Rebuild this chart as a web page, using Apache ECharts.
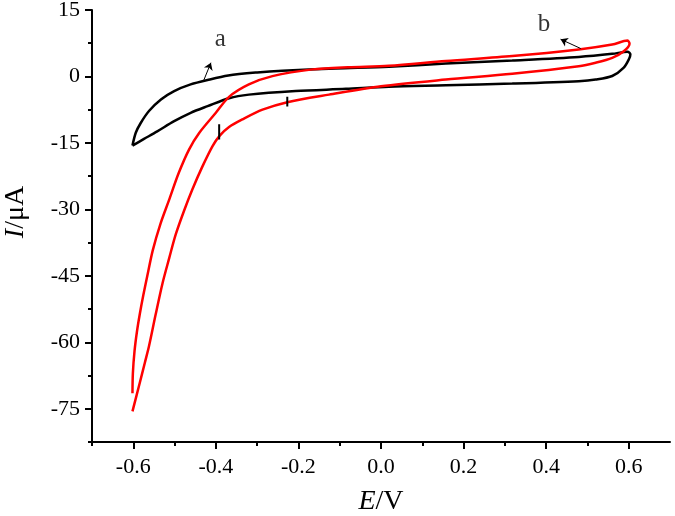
<!DOCTYPE html>
<html>
<head>
<meta charset="utf-8">
<script src="https://cdn.jsdelivr.net/npm/echarts@6/dist/echarts.min.js"></script>
<style>
  html, body { margin: 0; padding: 0; background: #fff; }
  #chart { width: 675px; height: 516px; }
</style>
</head>
<body>
<div id="chart"></div>
<script>
// ticks
const xMajor = [-0.6, -0.4, -0.2, 0.0, 0.2, 0.4, 0.6]
const xMinor = [-0.7, -0.5, -0.3, -0.1, 0.1, 0.3, 0.5]
const yMajor = [15, 0, -15, -30, -45, -60, -75]
const yMinor = [7.5, -7.5, -22.5, -37.5, -52.5, -67.5, -82.5]

// curve a (black), closed loop [E/V, I/uA]
const curveA = [
  [-0.602, -15.6], [-0.594, -12.7], [-0.582, -10.5], [-0.562, -7.8], [-0.533, -5.2],
  [-0.501, -3.3], [-0.461, -1.8], [-0.42, -0.8], [-0.37, 0.2], [-0.3, 0.9],
  [-0.239, 1.3], [-0.11, 1.8], [0.019, 2.2], [0.157, 2.9], [0.318, 3.6],
  [0.479, 4.4], [0.56, 5.1], [0.597, 5.6], [0.604, 5.0], [0.601, 4.0],
  [0.588, 2.0], [0.56, 0.1], [0.52, -0.7], [0.479, -1.06], [0.318, -1.6],
  [0.157, -2.0], [0.019, -2.3], [-0.085, -2.8], [-0.207, -3.3], [-0.32, -4.1],
  [-0.368, -4.9], [-0.42, -6.7], [-0.461, -8.2], [-0.501, -10.1], [-0.542, -12.4],
  [-0.574, -14.1], [-0.602, -15.6]
]

// curve b (red), open at the cathodic end
const curveB = [
  [-0.602, -71.5], [-0.601, -67], [-0.597, -62], [-0.591, -57.5], [-0.584, -53.5],
  [-0.576, -49.5], [-0.566, -45], [-0.553, -39.3], [-0.534, -33.2], [-0.513, -27.8],
  [-0.49, -21.8], [-0.465, -16.5], [-0.44, -12.7], [-0.4, -8.2], [-0.368, -4.6],
  [-0.32, -1.8], [-0.263, 0.07], [-0.166, 1.6], [-0.08, 2.1], [0.019, 2.4],
  [0.157, 3.5], [0.318, 4.6], [0.479, 6.1], [0.56, 7.2], [0.597, 8.1],
  [0.602, 7.4], [0.588, 5.7], [0.56, 4.2], [0.52, 3.1], [0.479, 2.3],
  [0.318, 0.6], [0.157, -0.7], [0.0, -2.2], [-0.126, -4.1], [-0.227, -5.8],
  [-0.287, -7.5], [-0.336, -9.7], [-0.368, -11.4], [-0.39, -13.3], [-0.408, -15.7],
  [-0.433, -20.4], [-0.457, -25.5], [-0.477, -30.3], [-0.497, -35.6], [-0.513, -41],
  [-0.529, -46.6], [-0.546, -53.8], [-0.562, -60.9], [-0.572, -64.6], [-0.585, -69.4],
  [-0.602, -75.6]
]

// short vertical marks on the curves
const marks = [
  [-0.392, -10.8], [-0.392, -14.2], '-',
  [-0.227, -4.6], [-0.227, -6.8]
]

// curve labels and their arrows: [from, to]
const labels = [[-0.389, 8.4, 'a'], [0.395, 11.7, 'b']]
const arrows = [
  [[-0.429, -0.8], [-0.412, 3.1]],
  [[0.484, 6.3], [0.435, 8.4]]
]

const FONT = '"Liberation Serif", "DejaVu Serif", serif'

const chart = echarts.init(document.getElementById('chart'))

const baseAxis = {
  type: 'value',
  axisLine: { onZero: false, lineStyle: { color: '#000', width: 2 } },
  splitLine: { show: false }
}

const titleStyle = {
  color: '#000', fontFamily: FONT, fontSize: 28,
  rich: { i: { fontStyle: 'italic', fontFamily: FONT, fontSize: 28, color: '#000' } }
}

const option = {
  animation: false,
  backgroundColor: '#fff',
  grid: { left: 92, right: 5, top: 10, bottom: 74, outerBoundsMode: 'none', containLabel: false },
  xAxis: [{
    ...baseAxis,
    position: 'bottom',
    min: -0.7, max: 0.7,
    axisTick: { customValues: xMajor, length: 7, lineStyle: { width: 2, color: '#000' } },
    axisLabel: {
      customValues: xMajor, margin: 14, color: '#000', fontFamily: FONT, fontSize: 22,
      formatter: v => v.toFixed(1)
    },
    name: '{i|E}/V',
    nameLocation: 'middle',
    nameGap: 46,
    nameTextStyle: titleStyle
  }, {
    ...baseAxis,
    position: 'bottom',
    min: -0.7, max: 0.7,
    axisLine: { show: false, onZero: false },
    axisTick: { customValues: xMinor, length: 4, lineStyle: { width: 2, color: '#000' } },
    axisLabel: { show: false }
  }],
  yAxis: [{
    ...baseAxis,
    position: 'left',
    min: -82.5, max: 15,
    axisTick: { customValues: yMajor, length: 7, lineStyle: { width: 2, color: '#000' } },
    axisLabel: {
      customValues: yMajor, margin: 12, color: '#000', fontFamily: FONT, fontSize: 22
    },
    name: '{i|I}/μA',
    nameLocation: 'middle',
    nameGap: 62,
    nameRotate: 90,
    nameTextStyle: { ...titleStyle, padding: [0, 0, 0, 28] }
  }, {
    ...baseAxis,
    position: 'left',
    min: -82.5, max: 15,
    axisLine: { show: false, onZero: false },
    axisTick: { customValues: yMinor, length: 4, lineStyle: { width: 2, color: '#000' } },
    axisLabel: { show: false }
  }],
  series: [
    {
      type: 'line', data: curveA, showSymbol: false, smooth: 0.3,
      lineStyle: { color: '#000', width: 2.5 }
    },
    {
      type: 'line', data: curveB, showSymbol: false, smooth: 0.3,
      lineStyle: { color: '#ff0000', width: 2.5 }
    },
    {
      type: 'line', data: marks, showSymbol: false, connectNulls: false,
      lineStyle: { color: '#000', width: 2 }
    },
    {
      type: 'scatter', data: labels, symbolSize: 0, silent: true,
      label: {
        show: true, position: 'inside', formatter: p => p.value[2],
        color: '#000', fontFamily: FONT, fontSize: 25
      },
      markLine: {
        silent: true,
        symbol: ['none', 'arrow'],
        symbolSize: 7,
        label: { show: false },
        lineStyle: { color: '#000', width: 1, type: 'solid' },
        data: arrows.map(([a, b]) => [{ coord: a }, { coord: b }])
      }
    }
  ]
}

chart.setOption(option)
</script>
</body>
</html>
